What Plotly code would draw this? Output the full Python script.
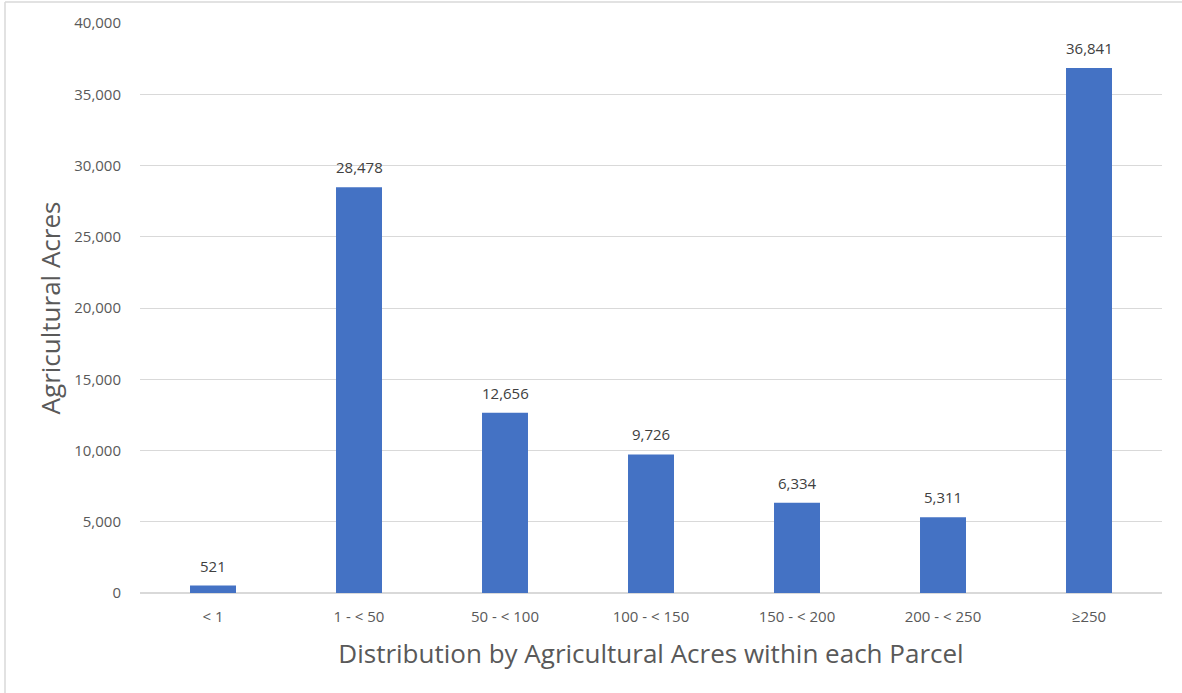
import plotly.graph_objects as go

categories = ["< 1", "1 - < 50", "50 - < 100", "100 - < 150", "150 - < 200", "200 - < 250", "≥250"]
acres = [521, 28478, 12656, 9726, 6334, 5311, 36841]
y_ticks = [0, 5000, 10000, 15000, 20000, 25000, 30000, 35000, 40000]

W, H = 1182, 693
L, R, T, B = 140, 20, 23, 100
pw, ph = W - L - R, H - T - B

font = "Open Sans, Noto Sans, sans-serif"

fig = go.Figure(go.Bar(
    x=categories, y=acres,
    marker=dict(color="#4472C4", line=dict(width=0)),
))

# value labels above the bars
for c, v in zip(categories, acres):
    fig.add_annotation(x=c, y=v, text=f"{v:,}", showarrow=False,
                       yanchor="bottom", yshift=8,
                       font=dict(size=15, color="#404040", family=font))

# chart frame, only the left and top edges are in view
top = 1 + (T - 2) / ph
left = (5 - L) / pw

fig.update_layout(
    width=W, height=H,
    margin=dict(l=L, r=R, t=T, b=B),
    paper_bgcolor="white", plot_bgcolor="white",
    bargap=0.685,
    showlegend=False,
    font=dict(family=font, color="#595959"),
    xaxis=dict(
        automargin=False,
        tickfont=dict(size=15, color="#595959"),
        showgrid=False, showline=False, ticks="", ticklabelstandoff=13,
        title=dict(text="Distribution by Agricultural Acres within each Parcel",
                   font=dict(size=26, color="#595959"), standoff=19),
    ),
    yaxis=dict(
        automargin=False,
        range=[0, 40000], tickvals=y_ticks, tickformat=",",
        tickfont=dict(size=15, color="#595959"),
        showgrid=True, gridcolor="#D9D9D9", gridwidth=1,
        zeroline=True, zerolinecolor="#D9D9D9", zerolinewidth=2,
        showline=False, ticks="", ticklabelstandoff=18,
        title=dict(text="Agricultural Acres", font=dict(size=26, color="#595959"), standoff=6),
    ),
    shapes=[
        dict(type="line", xref="paper", yref="paper",
             x0=left, x1=(W - L) / pw, y0=top, y1=top,
             line=dict(color="#D9D9D9", width=1.5)),
        dict(type="line", xref="paper", yref="paper",
             x0=left, x1=left, y0=top, y1=-B / ph,
             line=dict(color="#D9D9D9", width=1.5)),
    ],
)

# drop the default page margin so the figure fills the window
fig.write_html("out.html", config={"displayModeBar": False},
               post_script="document.body.style.margin='0';")
